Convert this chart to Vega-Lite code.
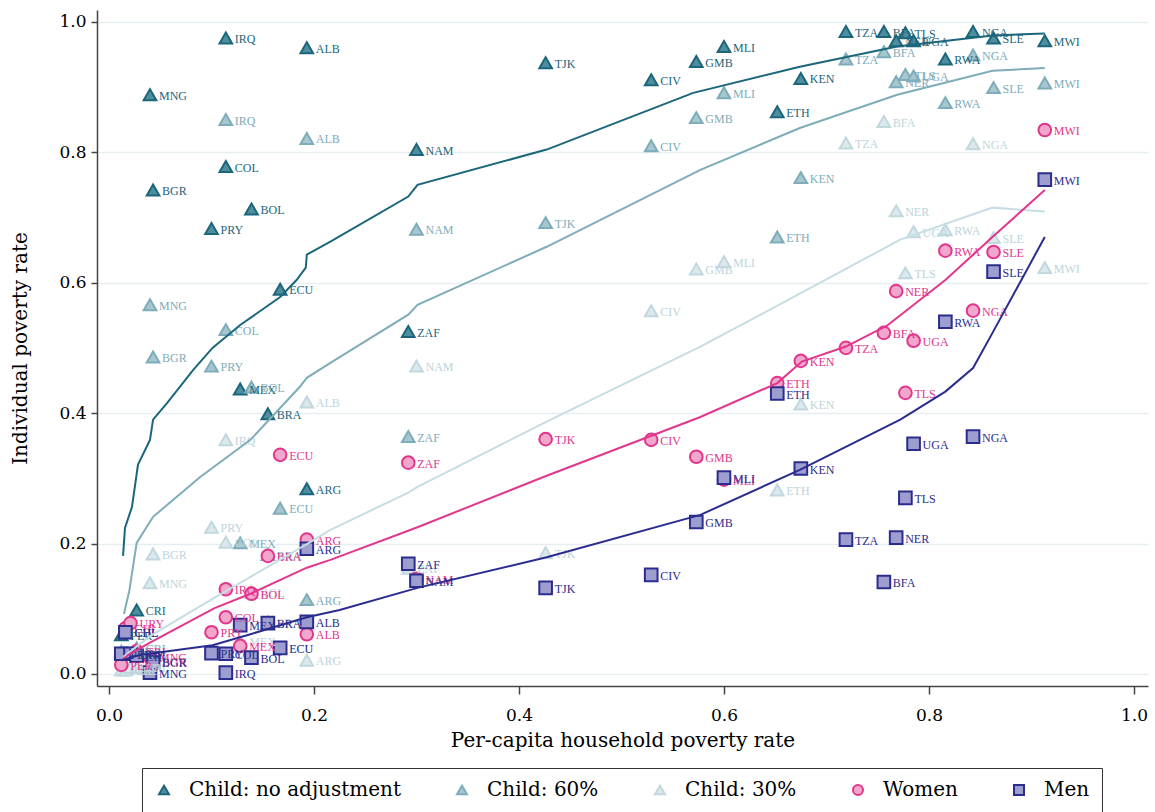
{
  "$schema": "https://vega.github.io/schema/vega-lite/v6.json",
  "width": 1051,
  "height": 676,
  "autosize": {"type": "none"},
  "padding": {"left": 97, "top": 10, "right": 7, "bottom": 126},
  "background": "white",
  "config": {"view": {"stroke": null}, "font": "DejaVu Serif",
    "legend": {"labelFont": "DejaVu Serif", "labelFontSize": 20, "labelColor": "#000"}},
  "datasets": {
    "pts": [
      {"c":"MNG","x":0.040,"s":"Child: no adjustment","y":0.888},{"c":"BGR","x":0.043,"s":"Child: no adjustment","y":0.742},{"c":"PER","x":0.012,"s":"Child: no adjustment","y":0.060},{"c":"CHL","x":0.016,"s":"Child: no adjustment","y":0.064},{"c":"URY","x":0.021,"s":"Child: no adjustment","y":0.031},{"c":"CRI","x":0.027,"s":"Child: no adjustment","y":0.098},{"c":"PRY","x":0.100,"s":"Child: no adjustment","y":0.683},{"c":"IRQ","x":0.114,"s":"Child: no adjustment","y":0.975},{"c":"COL","x":0.114,"s":"Child: no adjustment","y":0.778},{"c":"MEX","x":0.128,"s":"Child: no adjustment","y":0.437},{"c":"BOL","x":0.139,"s":"Child: no adjustment","y":0.713},{"c":"BRA","x":0.155,"s":"Child: no adjustment","y":0.399},{"c":"ECU","x":0.167,"s":"Child: no adjustment","y":0.590},{"c":"ALB","x":0.193,"s":"Child: no adjustment","y":0.960},{"c":"ARG","x":0.193,"s":"Child: no adjustment","y":0.284},{"c":"ZAF","x":0.292,"s":"Child: no adjustment","y":0.525},{"c":"NAM","x":0.300,"s":"Child: no adjustment","y":0.804},{"c":"TJK","x":0.426,"s":"Child: no adjustment","y":0.937},{"c":"CIV","x":0.529,"s":"Child: no adjustment","y":0.911},{"c":"GMB","x":0.573,"s":"Child: no adjustment","y":0.939},{"c":"MLI","x":0.600,"s":"Child: no adjustment","y":0.962},{"c":"ETH","x":0.652,"s":"Child: no adjustment","y":0.862},{"c":"KEN","x":0.675,"s":"Child: no adjustment","y":0.913},{"c":"TZA","x":0.719,"s":"Child: no adjustment","y":0.985},{"c":"BFA","x":0.756,"s":"Child: no adjustment","y":0.985},{"c":"NER","x":0.768,"s":"Child: no adjustment","y":0.971},{"c":"TLS","x":0.777,"s":"Child: no adjustment","y":0.983},{"c":"UGA","x":0.785,"s":"Child: no adjustment","y":0.971},{"c":"RWA","x":0.816,"s":"Child: no adjustment","y":0.943},{"c":"NGA","x":0.843,"s":"Child: no adjustment","y":0.985},{"c":"SLE","x":0.863,"s":"Child: no adjustment","y":0.975},{"c":"MWI","x":0.913,"s":"Child: no adjustment","y":0.971},

      {"c":"MNG","x":0.040,"s":"Child: 60%","y":0.566},{"c":"BGR","x":0.043,"s":"Child: 60%","y":0.486},{"c":"PER","x":0.012,"s":"Child: 60%","y":0.035},{"c":"CHL","x":0.016,"s":"Child: 60%","y":0.030},{"c":"URY","x":0.021,"s":"Child: 60%","y":0.030},{"c":"CRI","x":0.027,"s":"Child: 60%","y":0.040},{"c":"PRY","x":0.100,"s":"Child: 60%","y":0.472},{"c":"IRQ","x":0.114,"s":"Child: 60%","y":0.850},{"c":"COL","x":0.114,"s":"Child: 60%","y":0.528},{"c":"MEX","x":0.128,"s":"Child: 60%","y":0.201},{"c":"BOL","x":0.139,"s":"Child: 60%","y":0.440},{"c":"BRA","x":0.155,"s":"Child: 60%","y":0.183},{"c":"ECU","x":0.167,"s":"Child: 60%","y":0.254},{"c":"ALB","x":0.193,"s":"Child: 60%","y":0.821},{"c":"ARG","x":0.193,"s":"Child: 60%","y":0.114},{"c":"ZAF","x":0.292,"s":"Child: 60%","y":0.364},{"c":"NAM","x":0.300,"s":"Child: 60%","y":0.682},{"c":"TJK","x":0.426,"s":"Child: 60%","y":0.692},{"c":"CIV","x":0.529,"s":"Child: 60%","y":0.810},{"c":"GMB","x":0.573,"s":"Child: 60%","y":0.853},{"c":"MLI","x":0.600,"s":"Child: 60%","y":0.891},{"c":"ETH","x":0.652,"s":"Child: 60%","y":0.670},{"c":"KEN","x":0.675,"s":"Child: 60%","y":0.761},{"c":"TZA","x":0.719,"s":"Child: 60%","y":0.943},{"c":"BFA","x":0.756,"s":"Child: 60%","y":0.954},{"c":"NER","x":0.768,"s":"Child: 60%","y":0.908},{"c":"TLS","x":0.777,"s":"Child: 60%","y":0.919},{"c":"UGA","x":0.785,"s":"Child: 60%","y":0.917},{"c":"RWA","x":0.816,"s":"Child: 60%","y":0.876},{"c":"NGA","x":0.843,"s":"Child: 60%","y":0.949},{"c":"SLE","x":0.863,"s":"Child: 60%","y":0.899},{"c":"MWI","x":0.913,"s":"Child: 60%","y":0.906},

      {"c":"MNG","x":0.040,"s":"Child: 30%","y":0.140},{"c":"BGR","x":0.043,"s":"Child: 30%","y":0.184},{"c":"PER","x":0.012,"s":"Child: 30%","y":0.006},{"c":"CHL","x":0.016,"s":"Child: 30%","y":0.006},{"c":"URY","x":0.021,"s":"Child: 30%","y":0.010},{"c":"CRI","x":0.027,"s":"Child: 30%","y":0.010},{"c":"PRY","x":0.100,"s":"Child: 30%","y":0.225},{"c":"IRQ","x":0.114,"s":"Child: 30%","y":0.359},{"c":"COL","x":0.114,"s":"Child: 30%","y":0.202},{"c":"MEX","x":0.128,"s":"Child: 30%","y":0.050},{"c":"BOL","x":0.139,"s":"Child: 30%","y":0.125},{"c":"BRA","x":0.155,"s":"Child: 30%","y":0.080},{"c":"ECU","x":0.167,"s":"Child: 30%","y":0.040},{"c":"ALB","x":0.193,"s":"Child: 30%","y":0.417},{"c":"ARG","x":0.193,"s":"Child: 30%","y":0.021},{"c":"ZAF","x":0.292,"s":"Child: 30%","y":0.162},{"c":"NAM","x":0.300,"s":"Child: 30%","y":0.472},{"c":"TJK","x":0.426,"s":"Child: 30%","y":0.186},{"c":"CIV","x":0.529,"s":"Child: 30%","y":0.557},{"c":"GMB","x":0.573,"s":"Child: 30%","y":0.621},{"c":"MLI","x":0.600,"s":"Child: 30%","y":0.632},{"c":"ETH","x":0.652,"s":"Child: 30%","y":0.282},{"c":"KEN","x":0.675,"s":"Child: 30%","y":0.414},{"c":"TZA","x":0.719,"s":"Child: 30%","y":0.814},{"c":"BFA","x":0.756,"s":"Child: 30%","y":0.847},{"c":"NER","x":0.768,"s":"Child: 30%","y":0.710},{"c":"TLS","x":0.777,"s":"Child: 30%","y":0.615},{"c":"UGA","x":0.785,"s":"Child: 30%","y":0.678},{"c":"RWA","x":0.816,"s":"Child: 30%","y":0.681},{"c":"NGA","x":0.843,"s":"Child: 30%","y":0.813},{"c":"SLE","x":0.863,"s":"Child: 30%","y":0.669},{"c":"MWI","x":0.913,"s":"Child: 30%","y":0.623},

      {"c":"MNG","x":0.040,"s":"Women","y":0.026},{"c":"BGR","x":0.043,"s":"Women","y":0.020},{"c":"PER","x":0.012,"s":"Women","y":0.014},{"c":"CHL","x":0.016,"s":"Women","y":0.070},{"c":"URY","x":0.021,"s":"Women","y":0.078},{"c":"CRI","x":0.027,"s":"Women","y":0.035},{"c":"PRY","x":0.100,"s":"Women","y":0.064},{"c":"IRQ","x":0.114,"s":"Women","y":0.130},{"c":"COL","x":0.114,"s":"Women","y":0.087},{"c":"MEX","x":0.128,"s":"Women","y":0.043},{"c":"BOL","x":0.139,"s":"Women","y":0.123},{"c":"BRA","x":0.155,"s":"Women","y":0.181},{"c":"ECU","x":0.167,"s":"Women","y":0.336},{"c":"ALB","x":0.193,"s":"Women","y":0.061},{"c":"ARG","x":0.193,"s":"Women","y":0.206},{"c":"ZAF","x":0.292,"s":"Women","y":0.324},{"c":"NAM","x":0.300,"s":"Women","y":0.146},{"c":"TJK","x":0.426,"s":"Women","y":0.360},{"c":"CIV","x":0.529,"s":"Women","y":0.359},{"c":"GMB","x":0.573,"s":"Women","y":0.333},{"c":"MLI","x":0.600,"s":"Women","y":0.298},{"c":"ETH","x":0.652,"s":"Women","y":0.446},{"c":"KEN","x":0.675,"s":"Women","y":0.480},{"c":"TZA","x":0.719,"s":"Women","y":0.500},{"c":"BFA","x":0.756,"s":"Women","y":0.523},{"c":"NER","x":0.768,"s":"Women","y":0.587},{"c":"TLS","x":0.777,"s":"Women","y":0.431},{"c":"UGA","x":0.785,"s":"Women","y":0.511},{"c":"RWA","x":0.816,"s":"Women","y":0.649},{"c":"NGA","x":0.843,"s":"Women","y":0.557},{"c":"SLE","x":0.863,"s":"Women","y":0.647},{"c":"MWI","x":0.913,"s":"Women","y":0.834},

      {"c":"MNG","x":0.040,"s":"Men","y":0.002},{"c":"BGR","x":0.043,"s":"Men","y":0.018},{"c":"PER","x":0.012,"s":"Men","y":0.031},{"c":"CHL","x":0.016,"s":"Men","y":0.064},{"c":"URY","x":0.021,"s":"Men","y":0.031},{"c":"CRI","x":0.027,"s":"Men","y":0.028},{"c":"PRY","x":0.100,"s":"Men","y":0.032},{"c":"IRQ","x":0.114,"s":"Men","y":0.002},{"c":"COL","x":0.114,"s":"Men","y":0.031},{"c":"MEX","x":0.128,"s":"Men","y":0.075},{"c":"BOL","x":0.139,"s":"Men","y":0.025},{"c":"BRA","x":0.155,"s":"Men","y":0.078},{"c":"ECU","x":0.167,"s":"Men","y":0.040},{"c":"ALB","x":0.193,"s":"Men","y":0.080},{"c":"ARG","x":0.193,"s":"Men","y":0.192},{"c":"ZAF","x":0.292,"s":"Men","y":0.169},{"c":"NAM","x":0.300,"s":"Men","y":0.143},{"c":"TJK","x":0.426,"s":"Men","y":0.132},{"c":"CIV","x":0.529,"s":"Men","y":0.152},{"c":"GMB","x":0.573,"s":"Men","y":0.233},{"c":"MLI","x":0.600,"s":"Men","y":0.301},{"c":"ETH","x":0.652,"s":"Men","y":0.430},{"c":"KEN","x":0.675,"s":"Men","y":0.315},{"c":"TZA","x":0.719,"s":"Men","y":0.206},{"c":"BFA","x":0.756,"s":"Men","y":0.141},{"c":"NER","x":0.768,"s":"Men","y":0.209},{"c":"TLS","x":0.777,"s":"Men","y":0.270},{"c":"UGA","x":0.785,"s":"Men","y":0.353},{"c":"RWA","x":0.816,"s":"Men","y":0.540},{"c":"NGA","x":0.843,"s":"Men","y":0.364},{"c":"SLE","x":0.863,"s":"Men","y":0.617},{"c":"MWI","x":0.913,"s":"Men","y":0.758}
    ],
    "fits": [
      {"s":"Child: no adjustment","x":0.0137,"y":0.181},{"s":"Child: no adjustment","x":0.0156,"y":0.224},{"s":"Child: no adjustment","x":0.0224,"y":0.256},{"s":"Child: no adjustment","x":0.0283,"y":0.321},{"s":"Child: no adjustment","x":0.040,"y":0.359},{"s":"Child: no adjustment","x":0.043,"y":0.390},{"s":"Child: no adjustment","x":0.057,"y":0.416},{"s":"Child: no adjustment","x":0.082,"y":0.466},{"s":"Child: no adjustment","x":0.101,"y":0.500},{"s":"Child: no adjustment","x":0.128,"y":0.535},{"s":"Child: no adjustment","x":0.167,"y":0.578},{"s":"Child: no adjustment","x":0.183,"y":0.604},{"s":"Child: no adjustment","x":0.192,"y":0.623},{"s":"Child: no adjustment","x":0.193,"y":0.643},{"s":"Child: no adjustment","x":0.216,"y":0.663},{"s":"Child: no adjustment","x":0.292,"y":0.732},{"s":"Child: no adjustment","x":0.301,"y":0.750},{"s":"Child: no adjustment","x":0.427,"y":0.804},{"s":"Child: no adjustment","x":0.570,"y":0.891},{"s":"Child: no adjustment","x":0.674,"y":0.931},{"s":"Child: no adjustment","x":0.769,"y":0.962},{"s":"Child: no adjustment","x":0.862,"y":0.979},{"s":"Child: no adjustment","x":0.913,"y":0.982},

      {"s":"Child: 60%","x":0.0146,"y":0.092},{"s":"Child: 60%","x":0.020,"y":0.129},{"s":"Child: 60%","x":0.023,"y":0.160},{"s":"Child: 60%","x":0.027,"y":0.201},{"s":"Child: 60%","x":0.043,"y":0.241},{"s":"Child: 60%","x":0.089,"y":0.302},{"s":"Child: 60%","x":0.138,"y":0.359},{"s":"Child: 60%","x":0.186,"y":0.440},{"s":"Child: 60%","x":0.193,"y":0.454},{"s":"Child: 60%","x":0.216,"y":0.477},{"s":"Child: 60%","x":0.292,"y":0.551},{"s":"Child: 60%","x":0.301,"y":0.566},{"s":"Child: 60%","x":0.427,"y":0.655},{"s":"Child: 60%","x":0.577,"y":0.773},{"s":"Child: 60%","x":0.674,"y":0.837},{"s":"Child: 60%","x":0.769,"y":0.888},{"s":"Child: 60%","x":0.862,"y":0.925},{"s":"Child: 60%","x":0.913,"y":0.929},

      {"s":"Child: 30%","x":0.0137,"y":0.026},{"s":"Child: 30%","x":0.040,"y":0.058},{"s":"Child: 30%","x":0.0985,"y":0.113},{"s":"Child: 30%","x":0.193,"y":0.199},{"s":"Child: 30%","x":0.216,"y":0.221},{"s":"Child: 30%","x":0.292,"y":0.278},{"s":"Child: 30%","x":0.301,"y":0.287},{"s":"Child: 30%","x":0.427,"y":0.387},{"s":"Child: 30%","x":0.577,"y":0.502},{"s":"Child: 30%","x":0.674,"y":0.583},{"s":"Child: 30%","x":0.772,"y":0.666},{"s":"Child: 30%","x":0.862,"y":0.715},{"s":"Child: 30%","x":0.913,"y":0.709},

      {"s":"Women","x":0.0127,"y":0.021},{"s":"Women","x":0.0185,"y":0.029},{"s":"Women","x":0.040,"y":0.048},{"s":"Women","x":0.103,"y":0.101},{"s":"Women","x":0.138,"y":0.123},{"s":"Women","x":0.193,"y":0.163},{"s":"Women","x":0.216,"y":0.175},{"s":"Women","x":0.301,"y":0.225},{"s":"Women","x":0.427,"y":0.304},{"s":"Women","x":0.577,"y":0.394},{"s":"Women","x":0.652,"y":0.446},{"s":"Women","x":0.676,"y":0.479},{"s":"Women","x":0.719,"y":0.502},{"s":"Women","x":0.759,"y":0.534},{"s":"Women","x":0.816,"y":0.604},{"s":"Women","x":0.862,"y":0.670},{"s":"Women","x":0.913,"y":0.742},

      {"s":"Men","x":0.0127,"y":0.021},{"s":"Men","x":0.030,"y":0.029},{"s":"Men","x":0.101,"y":0.044},{"s":"Men","x":0.138,"y":0.061},{"s":"Men","x":0.193,"y":0.087},{"s":"Men","x":0.225,"y":0.098},{"s":"Men","x":0.301,"y":0.132},{"s":"Men","x":0.427,"y":0.179},{"s":"Men","x":0.577,"y":0.244},{"s":"Men","x":0.674,"y":0.313},{"s":"Men","x":0.772,"y":0.390},{"s":"Men","x":0.816,"y":0.433},{"s":"Men","x":0.843,"y":0.469},{"s":"Men","x":0.862,"y":0.523},{"s":"Men","x":0.913,"y":0.670}
    ]
  },
  "encoding": {
    "x": {"field": "x", "type": "quantitative",
      "scale": {"domain": [-0.0117, 1.0137], "nice": false, "zero": false},
      "axis": {"values": [0, 0.2, 0.4, 0.6, 0.8, 1], "format": ".1f", "grid": false,
        "title": "Per-capita household poverty rate", "titleFont": "DejaVu Serif", "titleFontSize": 20, "titleFontWeight": "normal", "titleColor": "#000", "titlePadding": 7,
        "labelFont": "DejaVu Serif", "labelFontSize": 17, "labelColor": "#000", "labelPadding": 13,
        "tickSize": 8, "tickColor": "#444", "domainColor": "#444", "domainWidth": 1.5, "tickWidth": 1.5}},
    "y": {"field": "y", "type": "quantitative",
      "scale": {"domain": [-0.0184, 1.018], "nice": false, "zero": false},
      "axis": {"values": [0, 0.2, 0.4, 0.6, 0.8, 1], "format": ".1f", "grid": true, "gridColor": "#e6eef1", "gridWidth": 1.5,
        "title": "Individual poverty rate", "titleFont": "DejaVu Serif", "titleFontSize": 20, "titleFontWeight": "normal", "titleColor": "#000", "titlePadding": 28,
        "labelFont": "DejaVu Serif", "labelFontSize": 17, "labelColor": "#000", "labelPadding": 5,
        "tickSize": 6, "tickColor": "#444", "domainColor": "#444", "domainWidth": 1.5, "tickWidth": 1.5}}
  },
  "layer": [
    {
      "data": {"name": "pts"},
      "mark": {"type": "point", "filled": true, "strokeWidth": 2, "size": 160, "opacity": 1},
      "encoding": {
        "shape": {"field": "s", "type": "nominal",
          "scale": {"domain": ["Child: no adjustment", "Child: 60%", "Child: 30%", "Women", "Men"], "range": ["triangle-up", "triangle-up", "triangle-up", "circle", "square"]},
          "legend": {"title": null, "orient": "none", "legendX": 45, "legendY": 758, "direction": "horizontal", "strokeColor": "#333", "padding": 12, "labelFont": "DejaVu Serif", "labelFontSize": 20, "labelColor": "#000", "labelLimit": 400, "labelOffset": 15, "columnPadding": 51, "symbolSize": 100, "symbolStrokeWidth": 2,
            "encode": {"labels": {"update": {"font": {"value": "DejaVu Serif"}, "fontSize": {"value": 20}, "fill": {"value": "#000"}}}}}},
        "fill": {"field": "s", "type": "nominal",
          "scale": {"domain": ["Child: no adjustment", "Child: 60%", "Child: 30%", "Women", "Men"], "range": ["#4f8e9e", "#a6c7d0", "#dbe9ed", "#f1a6cb", "#9d9ecf"]},
          "legend": {"title": null, "orient": "none", "legendX": 45, "legendY": 758, "direction": "horizontal", "strokeColor": "#333", "padding": 12, "labelFont": "DejaVu Serif", "labelFontSize": 20, "labelColor": "#000", "labelLimit": 400, "labelOffset": 15, "columnPadding": 51, "symbolSize": 100, "symbolStrokeWidth": 2,
            "encode": {"labels": {"update": {"font": {"value": "DejaVu Serif"}, "fontSize": {"value": 20}, "fill": {"value": "#000"}}}}}},
        "stroke": {"field": "s", "type": "nominal",
          "scale": {"domain": ["Child: no adjustment", "Child: 60%", "Child: 30%", "Women", "Men"], "range": ["#1b667b", "#7eacb9", "#c0d8de", "#e2368d", "#2b2d8e"]},
          "legend": {"title": null, "orient": "none", "legendX": 45, "legendY": 758, "direction": "horizontal", "strokeColor": "#333", "padding": 12, "labelFont": "DejaVu Serif", "labelFontSize": 20, "labelColor": "#000", "labelLimit": 400, "labelOffset": 15, "columnPadding": 51, "symbolSize": 100, "symbolStrokeWidth": 2,
            "encode": {"labels": {"update": {"font": {"value": "DejaVu Serif"}, "fontSize": {"value": 20}, "fill": {"value": "#000"}}}}}}
      }
    },
    {"data": {"name": "pts"}, "transform": [{"filter": "datum.s == 'Child: no adjustment'"}],
     "mark": {"type": "text", "align": "left", "baseline": "middle", "dx": 9, "dy": 1, "fontSize": 12, "font": "Liberation Serif", "fill": "#1b667b"},
     "encoding": {"text": {"field": "c"}}},
    {"data": {"name": "pts"}, "transform": [{"filter": "datum.s == 'Child: 60%'"}],
     "mark": {"type": "text", "align": "left", "baseline": "middle", "dx": 9, "dy": 1, "fontSize": 12, "font": "Liberation Serif", "fill": "#7eacb9"},
     "encoding": {"text": {"field": "c"}}},
    {"data": {"name": "pts"}, "transform": [{"filter": "datum.s == 'Child: 30%'"}],
     "mark": {"type": "text", "align": "left", "baseline": "middle", "dx": 9, "dy": 1, "fontSize": 12, "font": "Liberation Serif", "fill": "#bcd5dc"},
     "encoding": {"text": {"field": "c"}}},
    {"data": {"name": "pts"}, "transform": [{"filter": "datum.s == 'Women'"}],
     "mark": {"type": "text", "align": "left", "baseline": "middle", "dx": 9, "dy": 1, "fontSize": 12, "font": "Liberation Serif", "fill": "#e2368d"},
     "encoding": {"text": {"field": "c"}}},
    {"data": {"name": "pts"}, "transform": [{"filter": "datum.s == 'Men'"}],
     "mark": {"type": "text", "align": "left", "baseline": "middle", "dx": 9, "dy": 1, "fontSize": 12, "font": "Liberation Serif", "fill": "#2b2d8e"},
     "encoding": {"text": {"field": "c"}}},
    {"data": {"name": "fits"}, "transform": [{"filter": "datum.s == 'Child: no adjustment'"}],
     "mark": {"type": "line", "strokeWidth": 2, "stroke": "#1b667b"}, "encoding": {}},
    {"data": {"name": "fits"}, "transform": [{"filter": "datum.s == 'Child: 60%'"}],
     "mark": {"type": "line", "strokeWidth": 2, "stroke": "#7eacb9"}, "encoding": {}},
    {"data": {"name": "fits"}, "transform": [{"filter": "datum.s == 'Child: 30%'"}],
     "mark": {"type": "line", "strokeWidth": 2, "stroke": "#c7dde3"}, "encoding": {}},
    {"data": {"name": "fits"}, "transform": [{"filter": "datum.s == 'Women'"}],
     "mark": {"type": "line", "strokeWidth": 2, "stroke": "#e2368d"}, "encoding": {}},
    {"data": {"name": "fits"}, "transform": [{"filter": "datum.s == 'Men'"}],
     "mark": {"type": "line", "strokeWidth": 2, "stroke": "#2b2d8e"}, "encoding": {}}
  ]
}
